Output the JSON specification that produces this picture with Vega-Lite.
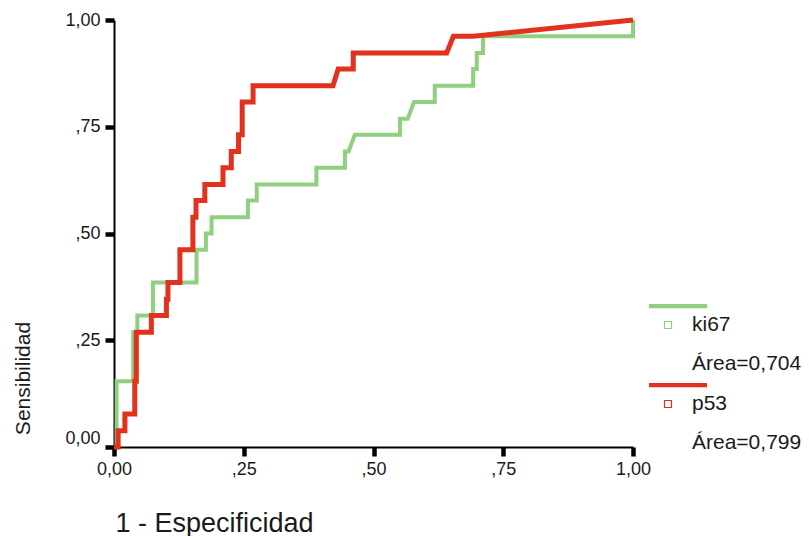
{
  "$schema": "https://vega.github.io/schema/vega-lite/v6.json",
  "width": 519,
  "height": 427,
  "autosize": "none",
  "padding": {"left": 114, "top": 20, "right": 176, "bottom": 89},
  "background": "white",
  "config": {
    "view": {"stroke": null},
    "axis": {"grid": false, "domainColor": "#000", "domainWidth": 2, "tickColor": "#000", "tickWidth": 4.5, "tickSize": 9, "labelFont": "Liberation Sans", "labelFontSize": 18, "labelColor": "#1a1a1a", "titleFont": "Liberation Sans", "titleFontWeight": "normal", "titleColor": "#1a1a1a", "labelFlush": false}
  },
  "datasets": {
    "roc": [
      {"s": "ki67", "o": 1, "x": 0, "y": 0},
      {"s": "ki67", "o": 2, "x": 0.005, "y": 0},
      {"s": "ki67", "o": 3, "x": 0.005, "y": 0.154},
      {"s": "ki67", "o": 4, "x": 0.037, "y": 0.154},
      {"s": "ki67", "o": 5, "x": 0.037, "y": 0.269},
      {"s": "ki67", "o": 6, "x": 0.045, "y": 0.269},
      {"s": "ki67", "o": 7, "x": 0.045, "y": 0.308},
      {"s": "ki67", "o": 8, "x": 0.075, "y": 0.308},
      {"s": "ki67", "o": 9, "x": 0.075, "y": 0.385},
      {"s": "ki67", "o": 10, "x": 0.159, "y": 0.385},
      {"s": "ki67", "o": 11, "x": 0.159, "y": 0.462},
      {"s": "ki67", "o": 12, "x": 0.177, "y": 0.462},
      {"s": "ki67", "o": 13, "x": 0.177, "y": 0.5},
      {"s": "ki67", "o": 14, "x": 0.188, "y": 0.5},
      {"s": "ki67", "o": 15, "x": 0.188, "y": 0.538},
      {"s": "ki67", "o": 16, "x": 0.258, "y": 0.538},
      {"s": "ki67", "o": 17, "x": 0.258, "y": 0.577},
      {"s": "ki67", "o": 18, "x": 0.275, "y": 0.577},
      {"s": "ki67", "o": 19, "x": 0.275, "y": 0.615},
      {"s": "ki67", "o": 20, "x": 0.39, "y": 0.615},
      {"s": "ki67", "o": 21, "x": 0.39, "y": 0.654},
      {"s": "ki67", "o": 22, "x": 0.445, "y": 0.654},
      {"s": "ki67", "o": 23, "x": 0.445, "y": 0.692},
      {"s": "ki67", "o": 24, "x": 0.452, "y": 0.692},
      {"s": "ki67", "o": 25, "x": 0.464, "y": 0.731},
      {"s": "ki67", "o": 26, "x": 0.551, "y": 0.731},
      {"s": "ki67", "o": 27, "x": 0.551, "y": 0.769},
      {"s": "ki67", "o": 28, "x": 0.566, "y": 0.769},
      {"s": "ki67", "o": 29, "x": 0.578, "y": 0.808},
      {"s": "ki67", "o": 30, "x": 0.618, "y": 0.808},
      {"s": "ki67", "o": 31, "x": 0.618, "y": 0.846},
      {"s": "ki67", "o": 32, "x": 0.692, "y": 0.846},
      {"s": "ki67", "o": 33, "x": 0.692, "y": 0.885},
      {"s": "ki67", "o": 34, "x": 0.699, "y": 0.885},
      {"s": "ki67", "o": 35, "x": 0.699, "y": 0.923},
      {"s": "ki67", "o": 36, "x": 0.711, "y": 0.923},
      {"s": "ki67", "o": 37, "x": 0.711, "y": 0.962},
      {"s": "ki67", "o": 38, "x": 1.0, "y": 0.962},
      {"s": "ki67", "o": 39, "x": 1.0, "y": 1.0},
      {"s": "p53", "o": 1, "x": 0, "y": 0},
      {"s": "p53", "o": 2, "x": 0.008, "y": 0},
      {"s": "p53", "o": 3, "x": 0.008, "y": 0.038},
      {"s": "p53", "o": 4, "x": 0.021, "y": 0.038},
      {"s": "p53", "o": 5, "x": 0.021, "y": 0.077},
      {"s": "p53", "o": 6, "x": 0.04, "y": 0.077},
      {"s": "p53", "o": 7, "x": 0.04, "y": 0.154},
      {"s": "p53", "o": 8, "x": 0.043, "y": 0.154},
      {"s": "p53", "o": 9, "x": 0.043, "y": 0.269},
      {"s": "p53", "o": 10, "x": 0.072, "y": 0.269},
      {"s": "p53", "o": 11, "x": 0.072, "y": 0.308},
      {"s": "p53", "o": 12, "x": 0.101, "y": 0.308},
      {"s": "p53", "o": 13, "x": 0.101, "y": 0.346},
      {"s": "p53", "o": 14, "x": 0.104, "y": 0.346},
      {"s": "p53", "o": 15, "x": 0.104, "y": 0.385},
      {"s": "p53", "o": 16, "x": 0.127, "y": 0.385},
      {"s": "p53", "o": 17, "x": 0.127, "y": 0.462},
      {"s": "p53", "o": 18, "x": 0.152, "y": 0.462},
      {"s": "p53", "o": 19, "x": 0.152, "y": 0.538},
      {"s": "p53", "o": 20, "x": 0.158, "y": 0.538},
      {"s": "p53", "o": 21, "x": 0.158, "y": 0.577},
      {"s": "p53", "o": 22, "x": 0.175, "y": 0.577},
      {"s": "p53", "o": 23, "x": 0.175, "y": 0.615},
      {"s": "p53", "o": 24, "x": 0.21, "y": 0.615},
      {"s": "p53", "o": 25, "x": 0.21, "y": 0.654},
      {"s": "p53", "o": 26, "x": 0.226, "y": 0.654},
      {"s": "p53", "o": 27, "x": 0.226, "y": 0.692},
      {"s": "p53", "o": 28, "x": 0.24, "y": 0.692},
      {"s": "p53", "o": 29, "x": 0.24, "y": 0.731},
      {"s": "p53", "o": 30, "x": 0.247, "y": 0.731},
      {"s": "p53", "o": 31, "x": 0.247, "y": 0.808},
      {"s": "p53", "o": 32, "x": 0.268, "y": 0.808},
      {"s": "p53", "o": 33, "x": 0.268, "y": 0.846},
      {"s": "p53", "o": 34, "x": 0.422, "y": 0.846},
      {"s": "p53", "o": 35, "x": 0.432, "y": 0.885},
      {"s": "p53", "o": 36, "x": 0.461, "y": 0.885},
      {"s": "p53", "o": 37, "x": 0.461, "y": 0.923},
      {"s": "p53", "o": 38, "x": 0.641, "y": 0.923},
      {"s": "p53", "o": 39, "x": 0.654, "y": 0.962},
      {"s": "p53", "o": 40, "x": 0.692, "y": 0.962},
      {"s": "p53", "o": 41, "x": 1.0, "y": 1.0}
    ]
  },
  "data": {"name": "roc"},
  "encoding": {
    "x": {
      "field": "x", "type": "quantitative",
      "scale": {"domain": [0, 1], "nice": false, "zero": false},
      "axis": {
        "title": "1 - Especificidad", "values": [0, 0.25, 0.5, 0.75, 1],
        "labelExpr": "datum.value == 0 ? '0,00' : datum.value == 1 ? '1,00' : ',' + format(datum.value * 100, '02d')",
        "labelPadding": 4, "titleFontSize": 27, "titleAnchor": "start", "titleAlign": "left", "titleX": 1, "titleY": 76, "titleBaseline": "middle"
      }
    },
    "y": {
      "field": "y", "type": "quantitative",
      "scale": {"domain": [0, 1], "nice": false, "zero": false},
      "axis": {
        "title": "Sensibilidad", "values": [0, 0.25, 0.5, 0.75, 1],
        "labelExpr": "datum.value == 0 ? '0,00' : datum.value == 1 ? '1,00' : ',' + format(datum.value * 100, '02d')",
        "labelPadding": 5,
        "labelBaseline": {"condition": {"test": "datum.value == 0", "value": "bottom"}, "value": "middle"},
        "titleFontSize": 21, "titleX": -91, "titleY": 358, "titleAlign": "center", "titleBaseline": "middle", "titleAngle": -90
      }
    },
    "order": {"field": "o", "type": "quantitative"},
    "color": {
      "field": "s", "type": "nominal",
      "scale": {"domain": ["ki67", "p53"], "range": ["#8fcf7f", "#e2311d"]},
      "legend": {
        "title": null, "orient": "none", "legendX": 534, "legendY": 275, "padding": 0,
        "symbolType": "M-1,-0.70H1M-1,-0.665H1M-1,-0.63H1M-1,-0.595H1M-0.465,-0.12H-0.225V0.12H-0.465Z",
        "symbolSize": 3364, "symbolStrokeWidth": 1.2, "symbolFillColor": "transparent",
        "labelExpr": "datum.label == 'ki67' ? ['ki67', 'Área=0,704'] : ['p53', 'Área=0,799']",
        "labelFont": "Liberation Sans", "labelFontSize": 21, "labelColor": "#1a1a1a", "labelBaseline": "middle", "labelOffset": -16, "labelLimit": 300,
        "rowPadding": 0,
        "encode": {"labels": {"update": {"lineHeight": {"value": 39}}}}
      }
    }
  },
  "layer": [
    {"transform": [{"filter": "datum.s == 'ki67'"}], "mark": {"type": "line", "strokeWidth": 4, "strokeJoin": "miter"}},
    {"transform": [{"filter": "datum.s == 'p53'"}], "mark": {"type": "line", "strokeWidth": 5, "strokeJoin": "miter"}}
  ]
}
